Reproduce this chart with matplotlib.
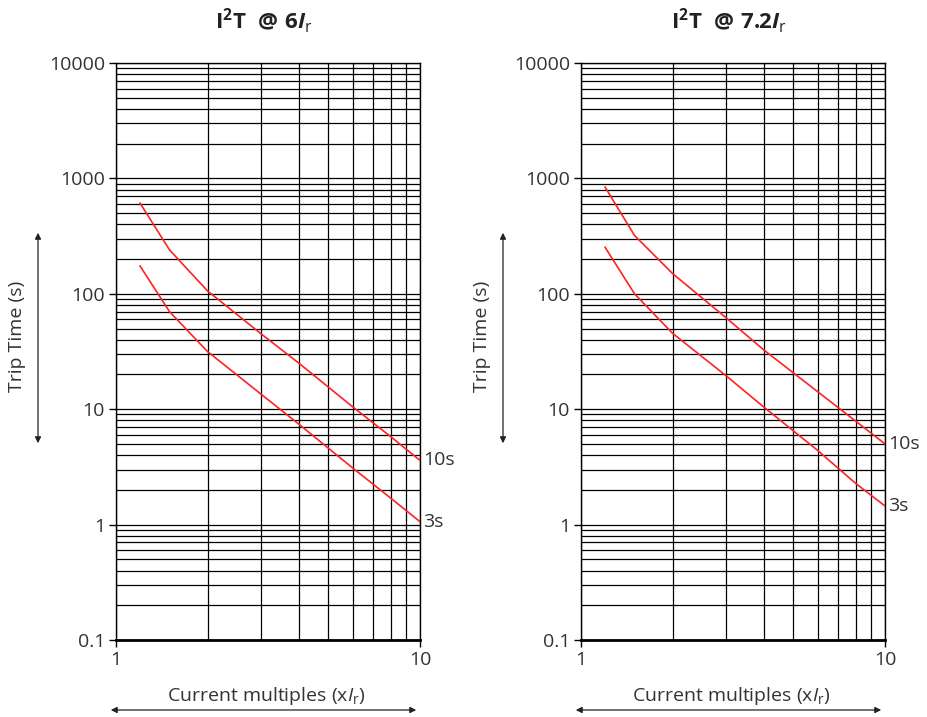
import numpy as np
import matplotlib
matplotlib.use("Agg")
import matplotlib.pyplot as plt
from matplotlib.ticker import FixedLocator, LogLocator, NullFormatter

plt.rcParams['font.family'] = ['Open Sans', 'DejaVu Sans']
plt.rcParams['mathtext.fontset'] = 'custom'
plt.rcParams['mathtext.rm'] = 'Open Sans'
plt.rcParams['mathtext.it'] = 'Open Sans:italic'
plt.rcParams['mathtext.bf'] = 'Open Sans:bold'
plt.rcParams['mathtext.bfit'] = 'Open Sans:bold:italic'

# current multiples (x Ir)
current = [1.2, 1.5, 2, 3, 4, 6, 8, 10]

# I2T @ 6Ir trip times (s)
t6_10s = [610, 240, 106, 45, 25, 10.5, 5.8, 3.6]
t6_3s = [174, 70, 31.6, 13.5, 7.4, 3.1, 1.7, 1.06]

# I2T @ 7.2Ir trip times (s)
t72_10s = [840, 320, 150, 62, 32.5, 14.2, 7.9, 5.0]
t72_3s = [253, 100, 45.5, 19.5, 10.4, 4.4, 2.28, 1.45]

curve_labels = ['10s', '3s']
titles = [r"$\mathbf{I^{2}T\ \ @\ 6}\mathbfit{I}_{\mathrm{r}}$",
          r"$\mathbf{I^{2}T\ \ @\ 7.2}\mathbfit{I}_{\mathrm{r}}$"]
yticks = [0.1, 1, 10, 100, 1000, 10000]
ytick_labels = ['0.1', '1', '10', '100', '1000', '10000']

W, H = 927, 717
fig = plt.figure(figsize=(W / 100, H / 100), dpi=100)

panels = [(116, t6_10s, t6_3s), (581, t72_10s, t72_3s)]
red = '#ff2222'
txt = '#333333'

for i, (left, s10, s3) in enumerate(panels):
    ax = fig.add_axes([left / W, 1 - 640 / H, 304 / W, 577 / H])
    ax.set_xscale('log')
    ax.set_yscale('log')
    ax.set_xlim(1, 10)
    ax.set_ylim(0.1, 10000)

    ax.xaxis.set_major_locator(FixedLocator([1, 10]))
    ax.xaxis.set_minor_locator(LogLocator(base=10, subs=np.arange(2, 10)))
    ax.xaxis.set_minor_formatter(NullFormatter())
    ax.set_xticklabels(['1', '10'])
    ax.yaxis.set_major_locator(FixedLocator(yticks))
    ax.yaxis.set_minor_locator(LogLocator(base=10, subs=np.arange(2, 10), numticks=20))
    ax.yaxis.set_minor_formatter(NullFormatter())
    ax.set_yticklabels(ytick_labels)

    ax.tick_params(which='major', length=5, width=1, color='black',
                   labelsize=14, labelcolor=txt, pad=3)
    ax.tick_params(which='minor', length=0)
    ax.grid(True, which='both', color='black', linewidth=0.9)
    ax.set_axisbelow(True)
    for sp in ax.spines.values():
        sp.set_color('black')
        sp.set_linewidth(1)
    ax.spines['bottom'].set_linewidth(2)

    for vals, lab in zip([s10, s3], curve_labels):
        ax.plot(current, vals, color=red, lw=1.2, zorder=3)
        ax.annotate(lab, (current[-1], vals[-1]), xytext=(2, 0),
                    textcoords='offset points', va='center', ha='left',
                    fontsize=14, color=txt, annotation_clip=False)

    cx = (left + 152) / W
    fig.text(cx - 4 / W, 1 - 21 / H, titles[i], ha='center', va='center',
             fontsize=16, color='#222222')

    # y label with double arrow
    lab_x = left - 99
    fig.text(lab_x / W, 1 - 336 / H, 'Trip Time (s)', rotation=90,
             ha='center', va='center', fontsize=14, color=txt)
    ar_x = left - 78
    fig.add_artist(matplotlib.patches.FancyArrowPatch(
        (ar_x / W, 1 - 230 / H), (ar_x / W, 1 - 446 / H),
        transform=fig.transFigure, arrowstyle='<|-|>', mutation_scale=9,
        color='#222222', lw=0.9))

    # x label with double arrow
    fig.text((left + 150) / W, 1 - 696 / H,
             r'Current multiples (x$\mathit{I}_{\mathrm{r}}$)',
             ha='center', va='center', fontsize=14, color=txt)
    fig.add_artist(matplotlib.patches.FancyArrowPatch(
        ((left - 8) / W, 1 - 710 / H), ((left + 303) / W, 1 - 710 / H),
        transform=fig.transFigure, arrowstyle='<|-|>', mutation_scale=9,
        color='#222222', lw=0.9))

fig.savefig('out.png', dpi=100)
